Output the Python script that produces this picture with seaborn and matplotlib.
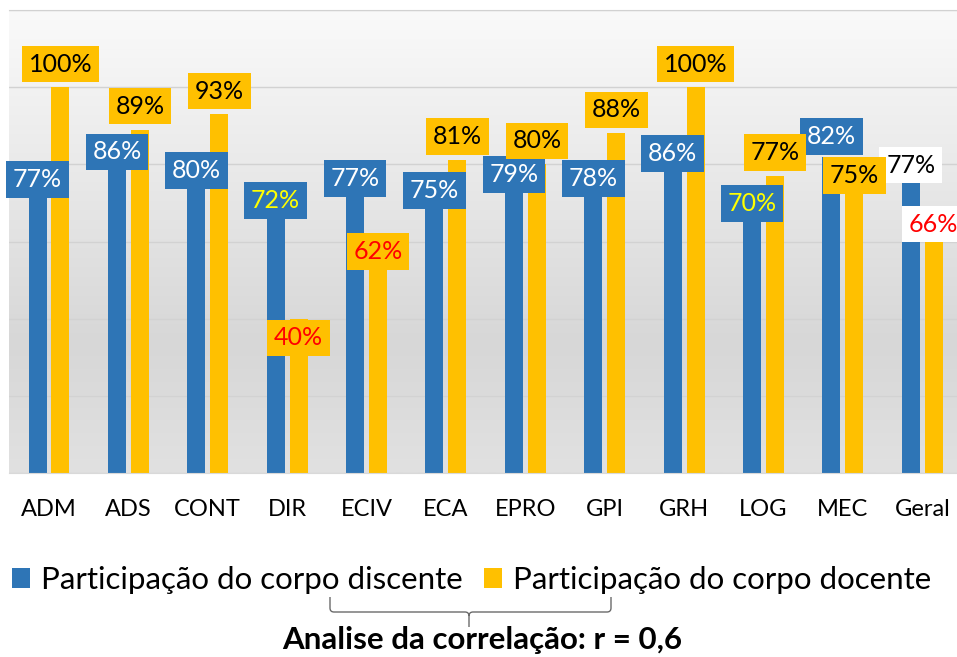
import numpy as np
import pandas as pd
import matplotlib
matplotlib.use("Agg")
import matplotlib.pyplot as plt
import seaborn as sns
from matplotlib.colors import LinearSegmentedColormap
from matplotlib.path import Path
from matplotlib.patches import PathPatch

# ---------------- data ----------------
categories = ["ADM", "ADS", "CONT", "DIR", "ECIV", "ECA", "EPRO", "GPI", "GRH", "LOG", "MEC", "Geral"]
discente = [77, 86, 80, 72, 77, 75, 79, 78, 86, 70, 82, 77]
docente = [100, 89, 93, 40, 62, 81, 80, 88, 100, 77, 75, 66]
series_names = ["Participação do corpo discente", "Participação do corpo docente"]
footer_text = "Analise da correlação: r = 0,6"

# ---------------- label styling (positions / colours) ----------------
BLUE = "#2E75B6"
YELLOW = "#FFC000"
disc_offsets = [-0.9, -2.8, -1.6, -1.4, -0.7, -1.8, -1.6, -1.7, -3.2, -0.2, 5.2, 2.8]
doc_offsets = [6.0, 6.1, 6.0, -5.0, -4.6, 6.2, 6.1, 6.1, 6.0, 6.1, 2.1, -1.5]
disc_txt = ["white", "white", "white", "#FFFF00", "white", "white", "white", "white",
            "white", "#FFFF00", "white", "black"]
disc_box = [BLUE] * 11 + ["white"]
doc_txt = ["black", "black", "black", "#FF0000", "#FF0000", "black", "black", "black",
           "black", "black", "black", "#FF0000"]
doc_box = [YELLOW] * 11 + ["white"]

FONT = "Lato"
plt.rcParams["font.family"] = [FONT, "DejaVu Sans"]

W, H = 957, 657
fig = plt.figure(figsize=(W / 100, H / 100), dpi=100)
fig.patch.set_facecolor("white")

left_px, right_px, top_px, bot_px = 9.3, 962.0, 10.0, 473.0
ax = fig.add_axes([left_px / W, (H - bot_px) / H, (right_px - left_px) / W, (bot_px - top_px) / H])

df = pd.DataFrame({
    "curso": categories * 2,
    "valor": discente + docente,
    "serie": [series_names[0]] * len(categories) + [series_names[1]] * len(categories),
})

# gradient background of the plot area (light at top, darker lower down)
grad_cmap = LinearSegmentedColormap.from_list(
    "bg", [(0.0, "#fafafa"), (0.72, "#d7d7d7"), (1.0, "#e1e1e1")])
grad = np.linspace(0, 1, 256).reshape(-1, 1)
ax.imshow(grad, cmap=grad_cmap, aspect="auto", extent=(0, 1, 0, 1),
          transform=ax.transAxes, zorder=0, interpolation="bilinear")

sns.barplot(data=df, x="curso", y="valor", hue="serie", order=categories,
            hue_order=series_names, palette=[BLUE, YELLOW], saturation=1,
            width=0.579, gap=0.217, ax=ax, legend=True, zorder=2)

ax.set_xlim(-0.5, len(categories) - 0.5)
ax.set_ylim(0, 120)
ax.set_yticks(np.arange(0, 121, 20))
ax.set_yticklabels([])
ax.tick_params(axis="y", length=0)
ax.tick_params(axis="x", length=0, pad=19, labelsize=17, labelcolor="black")
for lab in ax.get_xticklabels():
    lab.set_fontfamily([FONT, "DejaVu Sans"])
ax.yaxis.grid(True, color="#d2d2d2", linewidth=1.0)
ax.set_axisbelow(True)
ax.set_xlabel("")
ax.set_ylabel("")
for s in ["left", "right"]:
    ax.spines[s].set_visible(False)
ax.spines["top"].set_color("#d2d2d2")
ax.spines["bottom"].set_color("#d9d9d9")
ax.set_facecolor("none")

# data labels
def add_labels(container, values, offsets, tcols, bcols):
    for bar, v, off, tc, bc in zip(container, values, offsets, tcols, bcols):
        x = bar.get_x() + bar.get_width() / 2
        ax.text(x, v + off, f"{v}%", ha="center", va="center", fontsize=18,
                color=tc, zorder=6,
                bbox=dict(boxstyle="square,pad=0.27", fc=bc, ec="none"))

add_labels(ax.containers[0], discente, disc_offsets, disc_txt, disc_box)
add_labels(ax.containers[1], docente, doc_offsets, doc_txt, doc_box)

# legend
sns.move_legend(ax, "center", bbox_to_anchor=(471.5 / W, 1 - 580 / H),
                bbox_transform=fig.transFigure, ncol=2, title=None, frameon=False,
                fontsize=22.5, handlelength=0.58, handleheight=0.58,
                handletextpad=0.35, columnspacing=0.68, borderpad=0, borderaxespad=0)

# brace under the legend
def P(px, py):
    return (px / W, 1 - py / H)

verts = [P(330, 597), P(330, 608), P(330, 612), P(334, 612), P(465, 612),
         P(469, 612), P(469, 616), P(469, 627),
         P(469, 616), P(469, 612), P(473, 612), P(607, 612),
         P(611, 612), P(611, 608), P(611, 597)]
codes = [Path.MOVETO, Path.LINETO, Path.CURVE3, Path.CURVE3, Path.LINETO,
         Path.CURVE3, Path.CURVE3, Path.LINETO,
         Path.MOVETO, Path.CURVE3, Path.CURVE3, Path.LINETO,
         Path.CURVE3, Path.CURVE3, Path.LINETO]
fig.add_artist(PathPatch(Path(verts, codes), transform=fig.transFigure,
                         fill=False, ec="#6b6b6b", lw=1.0))

fig.text(482 / W, 1 - 640 / H, footer_text, ha="center", va="center",
         fontsize=22.5, fontweight="bold", color="black")

fig.savefig("out.png", dpi=100, facecolor="white")
